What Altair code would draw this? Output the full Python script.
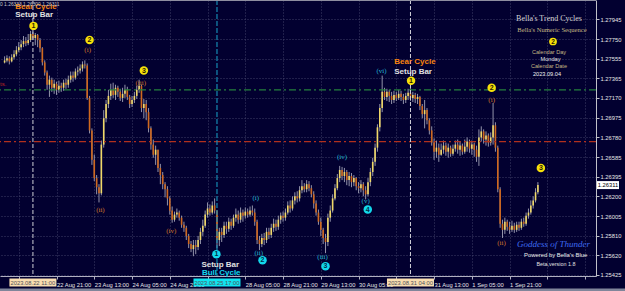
import altair as alt
import pandas as pd

# ---------------- data ----------------
# hourly bars, index = trading hours counted from 22 Aug 00:00
bar_index = list(range(-1, 226))
first_open = 1.2752
close = [1.2754, 1.2756, 1.2753, 1.2757, 1.2760, 1.2764, 1.2767, 1.2770, 1.2773, 1.2771, 1.2774,
         1.2780, 1.2776, 1.2779, 1.2774, 1.2766, 1.2752, 1.2742, 1.2730, 1.2735, 1.2727,
         1.2731, 1.2725, 1.2729, 1.2727, 1.2732, 1.2730, 1.2735, 1.2739, 1.2737, 1.2743,
         1.2744, 1.2746, 1.2750, 1.2749, 1.2717, 1.2685, 1.2656, 1.2638, 1.2629, 1.2623,
         1.2671, 1.2697, 1.2711, 1.2719, 1.2725, 1.2720, 1.2727, 1.2723, 1.2717, 1.2721,
         1.2725, 1.2718, 1.2711, 1.2715, 1.2719, 1.2725, 1.2729, 1.2707, 1.2711, 1.2703,
         1.2687, 1.2671, 1.2661, 1.2666, 1.2648, 1.2641, 1.2632, 1.2627, 1.2618, 1.2606,
         1.2597, 1.2602, 1.2604, 1.2599, 1.2592, 1.2589, 1.2581, 1.2573, 1.2568, 1.2572,
         1.2570, 1.2577, 1.2585, 1.2591, 1.2602, 1.2608, 1.2604, 1.2611, 1.2606, 1.2577,
         1.2585, 1.2582, 1.2591, 1.2588, 1.2595, 1.2591, 1.2599, 1.2602, 1.2597, 1.2604,
         1.2601, 1.2605, 1.2602, 1.2606, 1.2604, 1.2595, 1.2577, 1.2573, 1.2579, 1.2577,
         1.2585, 1.2582, 1.2589, 1.2593, 1.2590, 1.2597, 1.2601, 1.2599, 1.2604, 1.2611,
         1.2608, 1.2616, 1.2620, 1.2618, 1.2626, 1.2630, 1.2627, 1.2632, 1.2628, 1.2622,
         1.2613, 1.2604, 1.2595, 1.2587, 1.2579, 1.2575, 1.2599, 1.2606, 1.2618, 1.2628,
         1.2638, 1.2646, 1.2640, 1.2644, 1.2636, 1.2640, 1.2634, 1.2638, 1.2630, 1.2628,
         1.2632, 1.2626, 1.2622, 1.2634, 1.2644, 1.2654, 1.2668, 1.2688, 1.2707, 1.2723,
         1.2718, 1.2723, 1.2719, 1.2715, 1.2720, 1.2717, 1.2721, 1.2718, 1.2715, 1.2719,
         1.2722, 1.2717, 1.2720, 1.2716, 1.2718, 1.2709, 1.2701, 1.2705, 1.2695, 1.2685,
         1.2673, 1.2664, 1.2668, 1.2661, 1.2666, 1.2670, 1.2664, 1.2668, 1.2662, 1.2667,
         1.2671, 1.2666, 1.2670, 1.2664, 1.2669, 1.2674, 1.2667, 1.2671, 1.2666, 1.2659,
         1.2678, 1.2684, 1.2676, 1.2680, 1.2673, 1.2678, 1.2690, 1.2668, 1.2627, 1.2593,
         1.2587, 1.2595, 1.2590, 1.2587, 1.2591, 1.2587, 1.2592, 1.2589, 1.2595, 1.2593,
         1.2601, 1.2604, 1.2611, 1.2616, 1.2624, 1.26311]
high = [1.2758, 1.2759, 1.2758, 1.2760, 1.2764, 1.2768, 1.2772, 1.2774, 1.2778, 1.2777, 1.2780,
        1.2783, 1.2782, 1.2781, 1.2780, 1.2776, 1.2767, 1.2754, 1.2744, 1.2739, 1.2737,
        1.2735, 1.2733, 1.2734, 1.2732, 1.2735, 1.2736, 1.2739, 1.2743, 1.2743, 1.2746,
        1.2748, 1.2750, 1.2753, 1.2754, 1.2751, 1.2719, 1.2687, 1.2661, 1.2641, 1.2632,
        1.2675, 1.2705, 1.2715, 1.2725, 1.2731, 1.2732, 1.2730, 1.2729, 1.2726, 1.2727,
        1.2730, 1.2728, 1.2720, 1.2719, 1.2723, 1.2729, 1.2735, 1.2730, 1.2716, 1.2715,
        1.2707, 1.2689, 1.2676, 1.2670, 1.2666, 1.2652, 1.2644, 1.2634, 1.2630, 1.2620,
        1.2610, 1.2605, 1.2608, 1.2606, 1.2601, 1.2595, 1.2591, 1.2583, 1.2576, 1.2577,
        1.2577, 1.2581, 1.2589, 1.2597, 1.2606, 1.2614, 1.2612, 1.2615, 1.2618, 1.2606,
        1.2589, 1.2589, 1.2595, 1.2595, 1.2599, 1.2598, 1.2602, 1.2608, 1.2606, 1.2609,
        1.2607, 1.2609, 1.2608, 1.2610, 1.2611, 1.2608, 1.2597, 1.2581, 1.2583, 1.2584,
        1.2589, 1.2589, 1.2593, 1.2598, 1.2597, 1.2601, 1.2604, 1.2605, 1.2608, 1.2615,
        1.2616, 1.2620, 1.2624, 1.2625, 1.2630, 1.2636, 1.2633, 1.2636, 1.2635, 1.2631,
        1.2625, 1.2616, 1.2607, 1.2599, 1.2589, 1.2583, 1.2603, 1.2611, 1.2622, 1.2632,
        1.2642, 1.2650, 1.2649, 1.2648, 1.2646, 1.2644, 1.2643, 1.2641, 1.2639, 1.2634,
        1.2636, 1.2634, 1.2630, 1.2638, 1.2648, 1.2658, 1.2672, 1.2691, 1.2711, 1.2739,
        1.2727, 1.2726, 1.2725, 1.2723, 1.2724, 1.2723, 1.2725, 1.2724, 1.2721, 1.2722,
        1.2726, 1.2727, 1.2723, 1.2722, 1.2721, 1.2719, 1.2711, 1.2715, 1.2707, 1.2697,
        1.2689, 1.2677, 1.2675, 1.2672, 1.2672, 1.2675, 1.2673, 1.2672, 1.2670, 1.2671,
        1.2675, 1.2676, 1.2674, 1.2672, 1.2676, 1.2678, 1.2676, 1.2675, 1.2673, 1.2670,
        1.2686, 1.2689, 1.2686, 1.2684, 1.2682, 1.2683, 1.2712, 1.2693, 1.2670, 1.2629,
        1.2597, 1.2599, 1.2597, 1.2595, 1.2596, 1.2594, 1.2595, 1.2595, 1.2598, 1.2599,
        1.2604, 1.2608, 1.2616, 1.2620, 1.2628, 1.2634]
low = [1.2751, 1.2752, 1.2750, 1.2752, 1.2755, 1.2758, 1.2762, 1.2764, 1.2767, 1.2768, 1.2769,
       1.2772, 1.2774, 1.2769, 1.2767, 1.2762, 1.2749, 1.2739, 1.2725, 1.2718, 1.2723,
       1.2721, 1.2720, 1.2722, 1.2723, 1.2724, 1.2726, 1.2727, 1.2732, 1.2733, 1.2735,
       1.2739, 1.2741, 1.2743, 1.2746, 1.2715, 1.2682, 1.2651, 1.2635, 1.2622, 1.2614,
       1.2621, 1.2668, 1.2693, 1.2707, 1.2715, 1.2717, 1.2715, 1.2718, 1.2714, 1.2713,
       1.2717, 1.2715, 1.2707, 1.2708, 1.2712, 1.2716, 1.2722, 1.2703, 1.2697, 1.2695,
       1.2683, 1.2666, 1.2658, 1.2651, 1.2644, 1.2632, 1.2627, 1.2619, 1.2611, 1.2602,
       1.2594, 1.2595, 1.2599, 1.2596, 1.2589, 1.2585, 1.2577, 1.2569, 1.2565, 1.2561,
       1.2563, 1.2567, 1.2573, 1.2581, 1.2589, 1.2599, 1.2601, 1.2602, 1.2603, 1.2569,
       1.2571, 1.2575, 1.2579, 1.2583, 1.2585, 1.2587, 1.2589, 1.2595, 1.2593, 1.2594,
       1.2595, 1.2598, 1.2599, 1.2600, 1.2601, 1.2591, 1.2573, 1.2567, 1.2570, 1.2572,
       1.2574, 1.2578, 1.2579, 1.2585, 1.2586, 1.2587, 1.2593, 1.2595, 1.2596, 1.2602,
       1.2604, 1.2606, 1.2612, 1.2614, 1.2615, 1.2623, 1.2624, 1.2624, 1.2625, 1.2619,
       1.2608, 1.2601, 1.2592, 1.2581, 1.2573, 1.2564, 1.2571, 1.2595, 1.2604, 1.2616,
       1.2626, 1.2634, 1.2636, 1.2634, 1.2631, 1.2630, 1.2629, 1.2630, 1.2626, 1.2623,
       1.2624, 1.2620, 1.2617, 1.2620, 1.2630, 1.2640, 1.2650, 1.2664, 1.2684, 1.2703,
       1.2715, 1.2714, 1.2713, 1.2711, 1.2712, 1.2714, 1.2715, 1.2714, 1.2711, 1.2712,
       1.2715, 1.2714, 1.2713, 1.2712, 1.2711, 1.2705, 1.2697, 1.2687, 1.2691, 1.2681,
       1.2670, 1.2656, 1.2658, 1.2654, 1.2660, 1.2662, 1.2660, 1.2658, 1.2659, 1.2660,
       1.2664, 1.2662, 1.2660, 1.2661, 1.2662, 1.2664, 1.2663, 1.2661, 1.2659, 1.2654,
       1.2650, 1.2674, 1.2672, 1.2670, 1.2669, 1.2670, 1.2671, 1.2664, 1.2624, 1.2589,
       1.2579, 1.2583, 1.2586, 1.2583, 1.2585, 1.2584, 1.2585, 1.2586, 1.2587, 1.2590,
       1.2591, 1.2598, 1.2602, 1.2608, 1.2614, 1.2622]

# x-axis time labels (every 16 bars; labels under the highlighted boxes are hidden)
x_tick_k = [5, 21, 37, 53, 69, 85, 101, 117, 133, 149, 165, 181, 197, 213, 229, 245]
x_tick_labels = ["", "22 Aug 21:00", "23 Aug 13:00", "24 Aug 05:00", "24 Aug 21:00",
                 "", "28 Aug 05:00", "28 Aug 21:00", "29 Aug 13:00", "30 Aug 05:00",
                 "", "31 Aug 13:00", "1 Sep 05:00", "1 Sep 21:00", "", ""]
y_ticks = [1.27945, 1.27750, 1.27555, 1.27365, 1.27170, 1.26975, 1.26780, 1.26585,
           1.26395, 1.26200, 1.26005, 1.25810, 1.25620, 1.25425]

# horizontal levels
level_green = [1.2725]
level_red = [1.2674]

# setup bars (vertical lines + highlighted time labels)
setup_k = [11, 89, 171]
setup_time = ["2023.08.22 11:00", "2023.08.25 17:00", "2023.08.31 04:00"]
setup_kind = ["bear", "bull", "bear"]

# setup captions
cap_text = ["Bear Cycle", "Setup Bar", "Bear Cycle", "Setup Bar", "Setup Bar", "Bull Cycle"]
cap_k = [12.3, 11.5, 172.9, 172.1, 90.4, 90.8]
cap_price = [1.2807, 1.2799, 1.2752, 1.2743, 1.2552, 1.2544]
cap_kind = ["orange", "white", "orange", "white", "white", "cyan"]

# wave counts
yel_num = ["1", "2", "3", "1", "2", "3"]
yel_k = [11.25, 35, 58, 171.25, 205.4, 226.25]
yel_price = [1.2788, 1.2774, 1.2744, 1.2734, 1.2727, 1.2648]
org_rom = ["(i)", "(iii)", "(ii)", "(iv)", "(i)", "(ii)"]
org_k = [34.2, 56.7, 39.6, 69.6, 205.4, 209.6]
org_price = [1.2764, 1.2732, 1.2607, 1.2586, 1.2715, 1.2574]
cyn_num = ["1", "2", "3", "4"]
cyn_k = [88.75, 108.3, 135, 152.9]
cyn_price = [1.2563, 1.2557, 1.2551, 1.2607]
cyn_rom = ["(i)", "(ii)", "(iii)", "(iv)", "(v)", "(vi)"]
cyn_rk = [105.4, 106.7, 133.75, 142, 152, 158.75]
cyn_rprice = [1.2618, 1.2564, 1.2560, 1.2659, 1.2615, 1.2744]

last_price = 1.26311

# ---------------- styling ----------------
BG = "#020030"
BULL = "#f0d868"
BEAR = "#d0681e"
WICK = "#a4a4b8"
ORANGE = "#f7830f"
CYAN = "#12d8ec"
YELLOW = "#f6e00a"
SANS = "Liberation Sans"
SERIF = "Liberation Serif"

rows = []
prev = first_open
for k, c, h, l in zip(bar_index, close, high, low):
    o = prev
    rows.append(dict(k=k, open=o, close=c, high=max(h, o, c), low=min(l, o, c),
                     dir="up" if c >= o else "down"))
    prev = c
candles = pd.DataFrame(rows)

xs = alt.Scale(domain=[-0.8333, 247.5], nice=False, zero=False)
ys = alt.Scale(domain=[1.25415, 1.28135], nice=False, zero=False)

label_expr = ("[" + ",".join("'" + s + "'" for s in x_tick_labels) + "][indexof(["
              + ",".join(str(v) for v in x_tick_k) + "], datum.value)]")

GRID = "#54547a"
x_axis = alt.Axis(orient="bottom", values=x_tick_k, labelExpr=label_expr, labelAlign="left",
                  labelBaseline="top", labelPadding=2, labelAngle=0, labelOverlap=False,
                  labelFlush=False, labelBound=False, labelFont=SANS, labelFontSize=5.8,
                  labelColor="#e6e6e6", tickSize=3, tickColor="#b0b0c0", domainColor="#b0b0c0",
                  grid=True, gridColor=GRID, gridDash=[1, 2], gridOpacity=0.75, title=None)
y_axis = alt.Axis(orient="right", values=y_ticks, format=".5f", labelAlign="left",
                  labelBaseline="middle", labelPadding=1, labelFont=SANS, labelFontSize=5.8,
                  labelColor="#e6e6e6", tickSize=3, tickColor="#c0c0c8", domainColor="#c0c0c8",
                  grid=True, gridColor=GRID, gridDash=[1, 2], gridOpacity=0.75, title=None)

def X(field="k:Q"):
    return alt.X(field, scale=xs, axis=x_axis)

def Y(field):
    return alt.Y(field, scale=ys, axis=y_axis)

dummy = pd.DataFrame({"a": [0]})

def fixed_text(text, x, y, **kw):
    return alt.Chart(dummy).mark_text(text=text, **kw).encode(x=alt.value(x), y=alt.value(y))

layers = []

# candles (wick + body)
layers.append(alt.Chart(candles).mark_rule(color=WICK, strokeWidth=0.9).encode(
    x=X(), y=Y("low:Q"), y2="high:Q"))
layers.append(alt.Chart(candles).mark_bar(width=1.6).encode(
    x=X(), y=Y("open:Q"), y2="close:Q",
    color=alt.Color("dir:N", scale=alt.Scale(domain=["up", "down"], range=[BULL, BEAR]), legend=None)))

# levels
layers.append(alt.Chart(pd.DataFrame({"price": level_green})).mark_rule(
    strokeWidth=1.2, strokeDash=[7, 3, 2, 3], color="#24803c").encode(y=Y("price:Q")))
layers.append(alt.Chart(pd.DataFrame({"price": level_red})).mark_rule(
    strokeWidth=1.2, strokeDash=[7, 3, 2, 3], color="#b0301e").encode(y=Y("price:Q")))

# vertical setup lines
sv = pd.DataFrame({"k": setup_k, "time": setup_time, "kind": setup_kind})
layers.append(alt.Chart(sv).transform_filter("datum.kind == 'bear'").mark_rule(
    strokeWidth=1, strokeDash=[4, 2], color="#cfcfd8").encode(x=X()))
layers.append(alt.Chart(sv).transform_filter("datum.kind == 'bull'").mark_rule(
    strokeWidth=1.2, strokeDash=[5, 2], color="#1688b0").encode(x=X()))

# setup captions
cp = pd.DataFrame({"t": cap_text, "k": cap_k, "price": cap_price, "kind": cap_kind})
for kind, col in [("orange", ORANGE), ("white", "#e0e0e0"), ("cyan", CYAN)]:
    layers.append(alt.Chart(cp).transform_filter(f"datum.kind == '{kind}'").mark_text(
        font=SANS, fontSize=8, fontWeight="bold", color=col, align="center", baseline="middle").encode(
        x=X(), y=Y("price:Q"), text="t:N"))

# roman labels
ro = pd.DataFrame({"t": org_rom, "k": org_k, "price": org_price})
layers.append(alt.Chart(ro).mark_text(font=SERIF, fontSize=7, color="#d2762a",
                                      align="center", baseline="middle").encode(
    x=X(), y=Y("price:Q"), text="t:N"))
rc = pd.DataFrame({"t": cyn_rom, "k": cyn_rk, "price": cyn_rprice})
layers.append(alt.Chart(rc).mark_text(font=SERIF, fontSize=7, color="#22b8d4",
                                      align="center", baseline="middle").encode(
    x=X(), y=Y("price:Q"), text="t:N"))

# numbered circles
yn = pd.DataFrame({"t": yel_num, "k": yel_k, "price": yel_price})
layers.append(alt.Chart(yn).mark_circle(size=72, color=YELLOW, opacity=1).encode(x=X(), y=Y("price:Q")))
layers.append(alt.Chart(yn).mark_text(font=SANS, fontSize=7, fontWeight="bold", color="#2a2200",
                                      align="center", baseline="middle").encode(
    x=X(), y=Y("price:Q"), text="t:N"))
cn = pd.DataFrame({"t": cyn_num, "k": cyn_k, "price": cyn_price})
layers.append(alt.Chart(cn).mark_circle(size=72, color=CYAN, opacity=1).encode(x=X(), y=Y("price:Q")))
layers.append(alt.Chart(cn).mark_text(font=SANS, fontSize=7, fontWeight="bold", color="#00304a",
                                      align="center", baseline="middle").encode(
    x=X(), y=Y("price:Q"), text="t:N"))

# highlighted time labels on the x axis
layers.append(alt.Chart(sv).transform_filter("datum.kind == 'bear'").mark_tick(
    orient="vertical", size=8, thickness=47, color="#f8ddb0", opacity=1).encode(
    x=X(), y=alt.value(282.5)))
layers.append(alt.Chart(sv).transform_filter("datum.kind == 'bull'").mark_tick(
    orient="vertical", size=8, thickness=47, color="#10e4f0", opacity=1).encode(
    x=X(), y=alt.value(282.5)))
layers.append(alt.Chart(sv).mark_text(font=SANS, fontSize=5.8, color="#505058",
                                      align="center", baseline="middle").encode(
    x=X(), y=alt.value(282.8), text="time:N"))

# last price tag
lp = pd.DataFrame({"price": [last_price], "t": ["1.26311"]})
layers.append(alt.Chart(lp).mark_tick(orient="horizontal", size=22, thickness=8, color="#ffffff",
                                      opacity=1).encode(x=alt.value(608), y=Y("price:Q")))
layers.append(alt.Chart(lp).mark_text(font=SANS, fontSize=5.8, color="#000000",
                                      align="center", baseline="middle").encode(
    x=alt.value(608), y=Y("price:Q"), text="t:N"))

# info panel (top right)
layers.append(fixed_text("Bella's Trend Cycles", 549, 18.5, font=SERIF, fontSize=8, color="#d4d4d4"))
layers.append(fixed_text("Bella's Numeric Sequence", 552, 29.5, font=SERIF, fontSize=6.6, color="#c4b884"))
layers.append(alt.Chart(dummy).mark_circle(size=60, color=YELLOW, opacity=1).encode(
    x=alt.value(553), y=alt.value(41.5)))
layers.append(fixed_text("2", 553, 41.7, font=SANS, fontSize=6.5, fontWeight="bold", color="#2a2200"))
layers.append(fixed_text("Calendar Day", 549, 51.7, font=SANS, fontSize=5.6, color="#c4b884"))
layers.append(fixed_text("Monday", 550.5, 59.3, font=SANS, fontSize=5.6, color="#e4e4e4"))
layers.append(fixed_text("Calendar Date", 549, 66.3, font=SANS, fontSize=5.6, color="#c4b884"))
layers.append(fixed_text("2023.09.04", 547, 73.8, font=SANS, fontSize=5.6, color="#f0f0f0"))

# footer (bottom right)
layers.append(fixed_text("Goddess of Thunder", 553.5, 244, font=SERIF, fontSize=9, fontStyle="italic",
                         color="#3f6cf2"))
layers.append(fixed_text("Powered by Bella's Blue", 555.7, 255, font=SANS, fontSize=5.9, color="#ececec"))
layers.append(fixed_text("Beta,version 1.8", 556, 264.3, font=SANS, fontSize=5.4, color="#e0e0e0"))

# header & stray labels
layers.append(fixed_text("0 1.26333 1.26300 1.26311", 0, 4.8, font=SANS, fontSize=4.9, color="#c8c8c8",
                         align="left", baseline="middle"))
layers.append(fixed_text("ts.", 0, 83.5, font=SANS, fontSize=6, color="#b82a20", align="left",
                         baseline="middle"))

# frame pieces
layers.append(alt.Chart(dummy).mark_rule(color="#8e8ea0", strokeWidth=1).encode(
    x=alt.value(0), x2=alt.value(596), y=alt.value(0.5)))
layers.append(alt.Chart(dummy).mark_rect(color="#80859a").encode(
    x=alt.value(0), x2=alt.value(625), y=alt.value(288.5), y2=alt.value(291)))

chart = alt.layer(*layers).properties(
    width=596, height=276, background=BG,
    padding={"left": 0, "top": 0, "right": 29, "bottom": 15},
    autosize=alt.AutoSizeParams(type="none"),
).configure_view(stroke=None)

chart.save("out.html", embed_options={"renderer": "svg", "actions": False})
